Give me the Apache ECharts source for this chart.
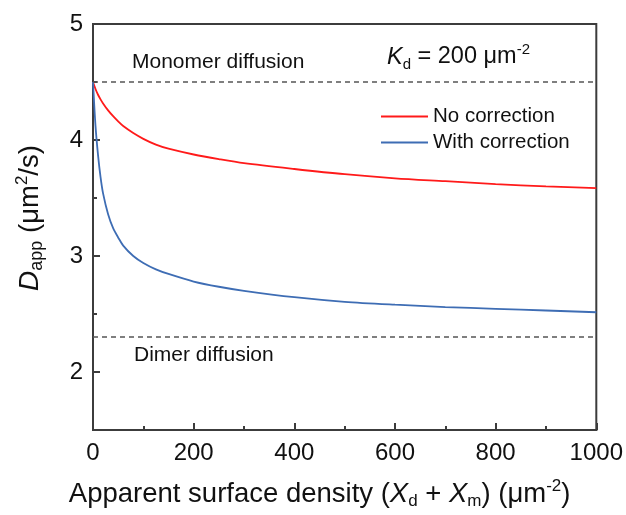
<!DOCTYPE html>
<html>
<head>
<meta charset="utf-8">
<script src="https://cdn.jsdelivr.net/npm/echarts@6/dist/echarts.min.js"></script>
<style>
  html, body { margin: 0; padding: 0; background: #fff; }
  #chart { width: 626px; height: 515px; }
</style>
</head>
<body>
<div id="chart"></div>
<script>
// Apparent surface density (Xd + Xm), µm^-2
const density = [0, 5, 10, 15, 20, 30, 40, 50, 60, 80, 100, 125, 150, 200, 250, 300, 400, 500, 600, 700, 800, 900, 1000];
// D_app without correction (µm^2/s)
const noCorrection = [4.50, 4.44, 4.39, 4.35, 4.315, 4.255, 4.205, 4.16, 4.12, 4.06, 4.01, 3.96, 3.925, 3.875, 3.835, 3.80, 3.75, 3.705, 3.67, 3.645, 3.62, 3.60, 3.585];
// D_app with correction (µm^2/s)
const withCorrection = [4.50, 4.12, 3.87, 3.68, 3.54, 3.36, 3.24, 3.16, 3.09, 3.00, 2.94, 2.885, 2.845, 2.78, 2.735, 2.70, 2.645, 2.605, 2.58, 2.56, 2.545, 2.53, 2.515];
// Reference diffusion levels
const monomerLevel = 4.5;
const dimerLevel = 2.3;
// Axis ticks
const xTicks = [0, 200, 400, 600, 800, 1000];
const yMajorTicks = [2, 3, 4, 5];

const FONT = '"Liberation Sans", Arial, sans-serif';
const AXIS_COLOR = '#3c3c3c';
const TEXT_COLOR = '#111';

const chart = echarts.init(document.getElementById('chart'), null, { renderer: 'canvas' });

const pairs = arr => density.map((x, i) => [x, arr[i]]);

chart.setOption({
  animation: false,
  backgroundColor: '#fff',
  textStyle: { fontFamily: FONT },
  grid: { left: 93, right: 28, top: 24, bottom: 84, show: true, borderColor: AXIS_COLOR, borderWidth: 2, backgroundColor: 'transparent' },
  legend: {
    orient: 'vertical',
    left: 376,
    top: 101,
    itemWidth: 47,
    itemHeight: 2,
    itemGap: 5,
    icon: 'rect',
    textStyle: { fontFamily: FONT, fontSize: 20.5, color: TEXT_COLOR },
    data: ['No correction', 'With correction']
  },
  xAxis: {
    type: 'value',
    min: 0,
    max: 1000,
    interval: 200,
    name: 'Apparent surface density ({i|X}{sub|d} + {i|X}{sub|m}) (μm{sup|-2})',
    nameLocation: 'middle',
    nameGap: 48,
    nameTextStyle: {
      fontFamily: FONT, fontSize: 27.5, color: TEXT_COLOR, lineHeight: 32,
      padding: [0, 50, 0, 0],
      rich: {
        i: { fontFamily: FONT, fontSize: 27.5, fontStyle: 'italic', color: TEXT_COLOR, lineHeight: 32 },
        sub: { fontFamily: FONT, fontSize: 17, color: TEXT_COLOR, lineHeight: 15, verticalAlign: 'bottom' },
        sup: { fontFamily: FONT, fontSize: 17, color: TEXT_COLOR, lineHeight: 15, verticalAlign: 'top' }
      }
    },
    axisLine: { show: true, lineStyle: { color: AXIS_COLOR, width: 2 } },
    axisTick: { show: true, inside: true, length: 7, lineStyle: { color: AXIS_COLOR, width: 2 } },
    minorTick: { show: true, splitNumber: 2, length: 4, lineStyle: { color: AXIS_COLOR, width: 2 } },
    axisLabel: {
      fontFamily: FONT, fontSize: 24, color: TEXT_COLOR, margin: 11, showMaxLabel: true, showMinLabel: true,
      formatter: v => (xTicks.indexOf(v) >= 0 ? String(v) : '')
    },
    splitLine: { show: false },
    minorSplitLine: { show: false }
  },
  yAxis: [
    {
      type: 'value',
      min: 1.5,
      max: 5,
      interval: 0.5,
      name: '{i|D}{sub|app} (μm{sup|2}/s)',
      nameLocation: 'middle',
      nameGap: 47,
      nameRotate: 90,
      nameTextStyle: {
        fontFamily: FONT, fontSize: 27.5, color: TEXT_COLOR, lineHeight: 32,
        padding: [0, 0, 0, 18],
        rich: {
          i: { fontFamily: FONT, fontSize: 28, fontStyle: 'italic', color: TEXT_COLOR, lineHeight: 32 },
          sub: { fontFamily: FONT, fontSize: 18, color: TEXT_COLOR, lineHeight: 15, verticalAlign: 'bottom' },
          sup: { fontFamily: FONT, fontSize: 17, color: TEXT_COLOR, lineHeight: 15, verticalAlign: 'top' }
        }
      },
      axisLine: { show: true, lineStyle: { color: AXIS_COLOR, width: 2 } },
      axisTick: { show: true, inside: true, length: 4, lineStyle: { color: AXIS_COLOR, width: 2 } },
      axisLabel: {
        fontFamily: FONT, fontSize: 24, color: TEXT_COLOR, margin: 10,
        formatter: v => (yMajorTicks.indexOf(v) >= 0 ? String(v) : '')
      },
      splitLine: { show: false }
    },
    {
      type: 'value',
      min: 1.5,
      max: 5,
      position: 'left',
      axisLine: { show: false },
      axisTick: { show: true, inside: true, length: 7, customValues: yMajorTicks, lineStyle: { color: AXIS_COLOR, width: 2 } },
      axisLabel: { show: false },
      splitLine: { show: false }
    }
  ],
  series: [
    {
      name: 'No correction',
      type: 'line',
      data: pairs(noCorrection),
      smooth: 0.3,
      symbol: 'none',
      lineStyle: { color: '#ff1a1a', width: 1.8 },
      itemStyle: { color: '#ff1a1a' },
      z: 3,
      markLine: {
        silent: true,
        symbol: ['none', 'none'],
        label: { show: false },
        lineStyle: { color: '#555', type: [5, 4], width: 1.5 },
        data: [{ yAxis: monomerLevel }, { yAxis: dimerLevel }]
      }
    },
    {
      name: 'With correction',
      type: 'line',
      data: pairs(withCorrection),
      smooth: 0.3,
      symbol: 'none',
      lineStyle: { color: '#3e6db4', width: 1.8 },
      itemStyle: { color: '#3e6db4' },
      z: 3
    }
  ],
  graphic: [
    {
      type: 'text', left: 132, top: 52,
      style: { text: 'Monomer diffusion', font: '21px ' + FONT, fill: TEXT_COLOR }
    },
    {
      type: 'text', left: 134, top: 345,
      style: { text: 'Dimer diffusion', font: '21px ' + FONT, fill: TEXT_COLOR }
    },
    {
      type: 'text', left: 387, top: 42,
      style: {
        text: '{i|K}{sub|d}{n| = 200 μm}{sup|-2}',
        fill: TEXT_COLOR,
        rich: {
          i: { fontFamily: FONT, fontSize: 23.5, fontStyle: 'italic', fill: TEXT_COLOR, lineHeight: 30 },
          n: { fontFamily: FONT, fontSize: 23.5, fill: TEXT_COLOR, lineHeight: 30 },
          sub: { fontFamily: FONT, fontSize: 15, fill: TEXT_COLOR, lineHeight: 14, verticalAlign: 'bottom' },
          sup: { fontFamily: FONT, fontSize: 15, fill: TEXT_COLOR, lineHeight: 14, verticalAlign: 'top' }
        }
      }
    }
  ]
});
</script>
</body>
</html>
